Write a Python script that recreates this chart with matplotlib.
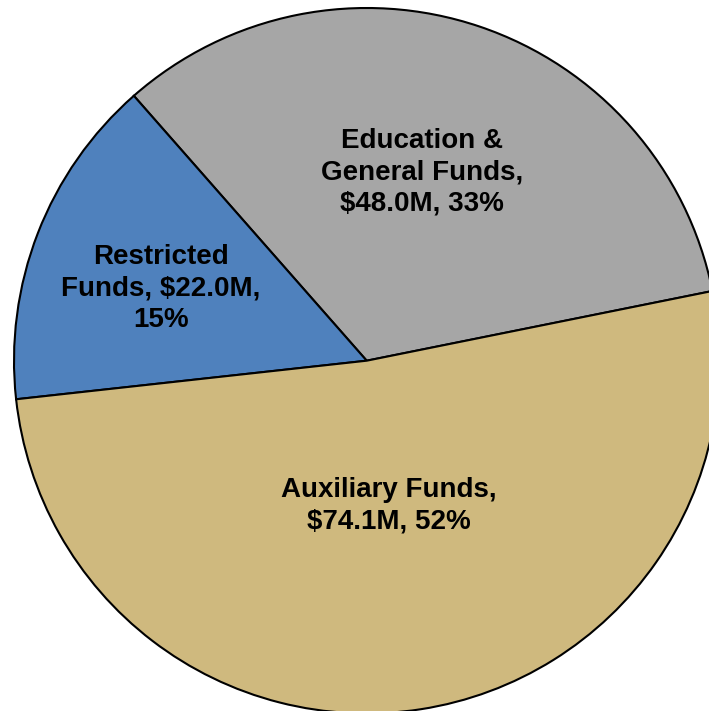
import numpy as np
import matplotlib.pyplot as plt

# slice data (counterclockwise from the start angle)
funds = ['Education &\nGeneral Funds', 'Restricted\nFunds', 'Auxiliary Funds']
amounts = [48.0, 22.0, 74.1]
pcts = [33, 15, 52]
colors = ['#A6A6A6', '#4F81BD', '#CFB97E']

plt.rcParams['font.family'] = ['Liberation Sans', 'DejaVu Sans']

fig = plt.figure(figsize=(7.09, 7.11), dpi=100)
ax = fig.add_axes([0, 0, 1, 1])

cx, cy, r = 366.7, 350.3, 352.7
start = 11.4
wedges, _ = ax.pie(amounts, colors=colors, startangle=start, counterclock=True,
                   radius=r, center=(cx, cy),
                   wedgeprops=dict(edgecolor='black', linewidth=1.5))

labels = ['Education &\nGeneral Funds,\n$48.0M, 33%',
          'Restricted\nFunds, $22.0M,\n15%',
          'Auxiliary Funds,\n$74.1M, 52%']
# label placement: fraction of radius and angle nudge, per slice
dist = [0.557, 0.618, 0.416]
nudge = [2.2, 1.9, -0.3]
for w, lab, d, n in zip(wedges, labels, dist, nudge):
    mid = np.deg2rad((w.theta1 + w.theta2) / 2 + n)
    ax.text(cx + d * r * np.cos(mid), cy + d * r * np.sin(mid), lab,
            ha='center', va='center', fontsize=20, fontweight='bold',
            linespacing=1.28)

ax.set_xlim(0, 709)
ax.set_ylim(0, 711)
ax.set_aspect('equal')
ax.axis('off')
fig.savefig('out.png', dpi=100)
